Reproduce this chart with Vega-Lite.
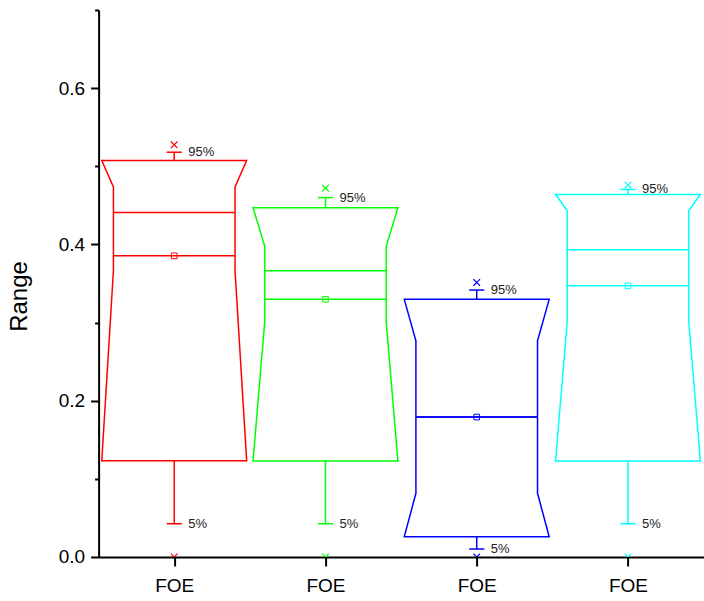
{
  "$schema": "https://vega.github.io/schema/vega-lite/v6.json",
  "width": 605,
  "height": 547,
  "autosize": "none",
  "padding": {"left": 98.6, "top": 10, "right": 0, "bottom": 44},
  "background": "white",
  "config": {
    "view": {"stroke": null},
    "font": "Liberation Sans",
    "text": {"font": "Liberation Sans"}
  },
  "data": {
    "values": [
      {"series": "FOE 1", "pos": 1, "q1": 0.1232, "notchLo": 0.3663, "median": 0.441, "mean": 0.3854, "notchHi": 0.4737, "q3": 0.5074, "p5": 0.0426, "p95": 0.518, "min": 0, "max": 0.5275},
      {"series": "FOE 2", "pos": 2, "q1": 0.1228, "notchLo": 0.3, "median": 0.3663, "mean": 0.3297, "notchHi": 0.398, "q3": 0.447, "p5": 0.0426, "p95": 0.46, "min": 0, "max": 0.472},
      {"series": "FOE 3", "pos": 3, "q1": 0.026, "notchLo": 0.0815, "median": 0.1791, "mean": 0.1791, "notchHi": 0.2767, "q3": 0.3297, "p5": 0.0102, "p95": 0.3416, "min": 0, "max": 0.3514},
      {"series": "FOE 4", "pos": 4, "q1": 0.1228, "notchLo": 0.3, "median": 0.3931, "mean": 0.347, "notchHi": 0.443, "q3": 0.464, "p5": 0.0426, "p95": 0.4704, "min": 0, "max": 0.4759}
    ]
  },
  "transform": [
    {"calculate": "datum.pos - 0.479", "as": "boxL"},
    {"calculate": "datum.pos + 0.479", "as": "boxR"},
    {"calculate": "datum.pos - 0.402", "as": "notchL"},
    {"calculate": "datum.pos + 0.402", "as": "notchR"},
    {"calculate": "datum.pos - 0.05", "as": "capL"},
    {"calculate": "datum.pos + 0.05", "as": "capR"}
  ],
  "encoding": {
    "color": {
      "field": "series",
      "type": "nominal",
      "scale": {"domain": ["FOE 1", "FOE 2", "FOE 3", "FOE 4"], "range": ["#FF0000", "#00FF00", "#0000FF", "#00FFFF"]},
      "legend": null
    }
  },
  "layer": [
    {
      "transform": [
        {"fold": ["q3", "notchHi", "notchLo", "q1"], "as": ["stat", "val"]},
        {"calculate": "[-1, 1]", "as": "side"},
        {"flatten": ["side"]},
        {"calculate": "datum.pos + datum.side * ((datum.stat == 'q3' || datum.stat == 'q1') ? 0.479 : 0.402)", "as": "xo"}
      ],
      "mark": {"type": "line", "strokeWidth": 1.5, "strokeCap": "square"},
      "encoding": {
        "x": {
          "field": "xo", "type": "quantitative", "title": null,
          "scale": {"domain": [0.5, 4.5], "nice": false, "zero": false},
          "axis": {
            "values": [1, 2, 3, 4], "labelExpr": "'FOE'", "grid": false,
            "domainColor": "black", "domainWidth": 2, "tickColor": "black", "tickWidth": 2, "tickSize": 9,
            "labelFontSize": 19, "labelColor": "black", "labelPadding": 11, "labelFont": "Liberation Sans"
          }
        },
        "y": {
          "field": "val", "type": "quantitative", "title": "Range",
          "scale": {"domain": [0, 0.7], "nice": false},
          "axis": {
            "values": [0, 0.1, 0.2, 0.3, 0.4, 0.5, 0.6, 0.7],
            "labelExpr": "round(datum.value * 10) % 2 == 0 ? format(datum.value, '.1f') : ''",
            "tickSize": {"condition": {"test": "round(datum.value * 10) % 2 == 0", "value": 8}, "value": 4},
            "grid": false, "domainColor": "black", "domainWidth": 2, "tickColor": "black", "tickWidth": 2,
            "labelFontSize": 19, "labelColor": "black", "labelPadding": 6, "labelFont": "Liberation Sans",
            "titleFontSize": 24, "titleFontWeight": "normal", "titleColor": "black", "titleFont": "Liberation Sans",
            "titlePadding": 27, "titleY": 286
          }
        },
        "detail": {"field": "side"},
        "order": {"field": "val", "type": "quantitative"}
      }
    },
    {
      "transform": [{"fold": ["q3", "q1"], "as": ["edge", "ev"]}],
      "mark": {"type": "rule", "strokeWidth": 1.5},
      "encoding": {
        "x": {"field": "boxL", "type": "quantitative", "title": null, "scale": {"domain": [0.5, 4.5], "nice": false, "zero": false}},
        "x2": {"field": "boxR"},
        "y": {"field": "ev", "type": "quantitative", "title": "Range", "scale": {"domain": [0, 0.7], "nice": false}}
      }
    },
    {
      "transform": [{"fold": ["median", "mean"], "as": ["line", "lv"]}],
      "mark": {"type": "rule", "strokeWidth": 1.5},
      "encoding": {
        "x": {"field": "notchL", "type": "quantitative", "title": null, "scale": {"domain": [0.5, 4.5], "nice": false, "zero": false}},
        "x2": {"field": "notchR"},
        "y": {"field": "lv", "type": "quantitative", "title": "Range", "scale": {"domain": [0, 0.7], "nice": false}}
      }
    },
    {
      "mark": {"type": "rule", "strokeWidth": 1.5},
      "encoding": {
        "x": {"field": "pos", "type": "quantitative", "title": null, "scale": {"domain": [0.5, 4.5], "nice": false, "zero": false}},
        "y": {"field": "q3", "type": "quantitative", "title": "Range", "scale": {"domain": [0, 0.7], "nice": false}},
        "y2": {"field": "p95"}
      }
    },
    {
      "mark": {"type": "rule", "strokeWidth": 1.5},
      "encoding": {
        "x": {"field": "pos", "type": "quantitative", "title": null, "scale": {"domain": [0.5, 4.5], "nice": false, "zero": false}},
        "y": {"field": "q1", "type": "quantitative", "title": "Range", "scale": {"domain": [0, 0.7], "nice": false}},
        "y2": {"field": "p5"}
      }
    },
    {
      "transform": [{"fold": ["p95", "p5"], "as": ["cap", "cv"]}],
      "mark": {"type": "rule", "strokeWidth": 1.5},
      "encoding": {
        "x": {"field": "capL", "type": "quantitative", "title": null, "scale": {"domain": [0.5, 4.5], "nice": false, "zero": false}},
        "x2": {"field": "capR"},
        "y": {"field": "cv", "type": "quantitative", "title": "Range", "scale": {"domain": [0, 0.7], "nice": false}}
      }
    },
    {
      "mark": {"type": "point", "shape": "square", "filled": false, "size": 32, "strokeWidth": 1, "opacity": 1},
      "encoding": {
        "x": {"field": "pos", "type": "quantitative", "title": null, "scale": {"domain": [0.5, 4.5], "nice": false, "zero": false}},
        "y": {"field": "mean", "type": "quantitative", "title": "Range", "scale": {"domain": [0, 0.7], "nice": false}}
      }
    },
    {
      "transform": [{"fold": ["max", "min"], "as": ["extreme", "xv"]}],
      "mark": {"type": "point", "shape": "M-1,-1L1,1M-1,1L1,-1", "filled": false, "size": 44, "strokeWidth": 1.2, "opacity": 1, "clip": true},
      "encoding": {
        "x": {"field": "pos", "type": "quantitative", "title": null, "scale": {"domain": [0.5, 4.5], "nice": false, "zero": false}},
        "y": {"field": "xv", "type": "quantitative", "title": "Range", "scale": {"domain": [0, 0.7], "nice": false}}
      }
    },
    {
      "transform": [
        {"fold": ["p95", "p5"], "as": ["pct", "pv"]},
        {"calculate": "datum.pct == 'p95' ? '95%' : '5%'", "as": "pctLabel"}
      ],
      "mark": {"type": "text", "align": "left", "baseline": "middle", "dx": 14, "fontSize": 13, "color": "#222222", "font": "Liberation Sans"},
      "encoding": {
        "x": {"field": "pos", "type": "quantitative", "title": null, "scale": {"domain": [0.5, 4.5], "nice": false, "zero": false}},
        "y": {"field": "pv", "type": "quantitative", "title": "Range", "scale": {"domain": [0, 0.7], "nice": false}},
        "text": {"field": "pctLabel"},
        "color": {"value": "#222222"}
      }
    }
  ]
}
